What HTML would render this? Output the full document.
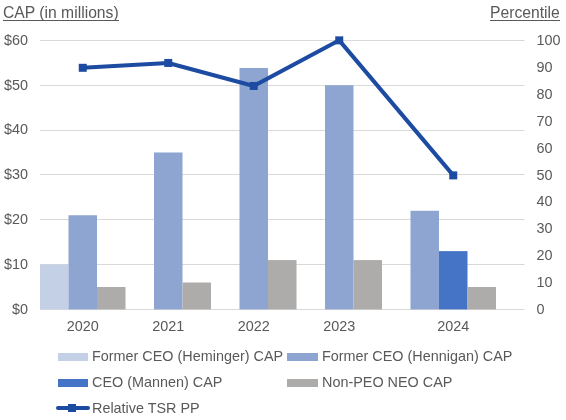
<!DOCTYPE html><html><head><meta charset="utf-8"><style>html,body{margin:0;padding:0;background:#fff;}svg{display:block;will-change:transform}text{font-family:"Liberation Sans",sans-serif;fill:#595959}</style></head><body>
<svg width="566" height="420" viewBox="0 0 566 420">
<rect width="566" height="420" fill="#fff"/>
<rect x="40" y="40" width="484.5" height="1" fill="#D9D9D9"/>
<rect x="40" y="85" width="484.5" height="1" fill="#D9D9D9"/>
<rect x="40" y="130" width="484.5" height="1" fill="#D9D9D9"/>
<rect x="40" y="174" width="484.5" height="1" fill="#D9D9D9"/>
<rect x="40" y="219" width="484.5" height="1" fill="#D9D9D9"/>
<rect x="40" y="264" width="484.5" height="1" fill="#D9D9D9"/>
<rect x="40" y="309" width="484.5" height="1" fill="#D9D9D9"/>
<rect x="40.00" y="264.57" width="28.5" height="44.83" fill="#C3D0E6"/>
<rect x="68.50" y="215.25" width="28.5" height="94.15" fill="#8EA5D1"/>
<rect x="97.00" y="286.98" width="28.5" height="22.42" fill="#AEABAB"/>
<rect x="154.00" y="152.48" width="28.5" height="156.92" fill="#8EA5D1"/>
<rect x="182.50" y="282.50" width="28.5" height="26.90" fill="#AEABAB"/>
<rect x="239.50" y="67.97" width="28.5" height="241.43" fill="#8EA5D1"/>
<rect x="268.00" y="260.08" width="28.5" height="49.32" fill="#AEABAB"/>
<rect x="325.00" y="85.23" width="28.5" height="224.17" fill="#8EA5D1"/>
<rect x="353.50" y="260.08" width="28.5" height="49.32" fill="#AEABAB"/>
<rect x="410.50" y="210.77" width="28.5" height="98.63" fill="#8EA5D1"/>
<rect x="439.00" y="251.12" width="28.5" height="58.28" fill="#4574C6"/>
<rect x="467.50" y="286.98" width="28.5" height="22.42" fill="#AEABAB"/>
<text x="28" y="44.7" font-size="14.4" text-anchor="end">$60</text>
<text x="28" y="89.5" font-size="14.4" text-anchor="end">$50</text>
<text x="28" y="134.4" font-size="14.4" text-anchor="end">$40</text>
<text x="28" y="179.2" font-size="14.4" text-anchor="end">$30</text>
<text x="28" y="224.0" font-size="14.4" text-anchor="end">$20</text>
<text x="28" y="268.9" font-size="14.4" text-anchor="end">$10</text>
<text x="28" y="313.7" font-size="14.4" text-anchor="end">$0</text>
<text x="536.6" y="45.0" font-size="14.4">100</text>
<text x="536.6" y="71.9" font-size="14.4">90</text>
<text x="536.6" y="98.8" font-size="14.4">80</text>
<text x="536.6" y="125.7" font-size="14.4">70</text>
<text x="536.6" y="152.6" font-size="14.4">60</text>
<text x="536.6" y="179.5" font-size="14.4">50</text>
<text x="536.6" y="206.4" font-size="14.4">40</text>
<text x="536.6" y="233.3" font-size="14.4">30</text>
<text x="536.6" y="260.2" font-size="14.4">20</text>
<text x="536.6" y="287.1" font-size="14.4">10</text>
<text x="536.6" y="314.0" font-size="14.4">0</text>
<text x="82.75" y="331" font-size="14.4" text-anchor="middle">2020</text>
<text x="168.25" y="331" font-size="14.4" text-anchor="middle">2021</text>
<text x="253.75" y="331" font-size="14.4" text-anchor="middle">2022</text>
<text x="339.25" y="331" font-size="14.4" text-anchor="middle">2023</text>
<text x="453.25" y="331" font-size="14.4" text-anchor="middle">2024</text>
<polyline points="82.75,67.80 168.25,62.96 253.75,85.96 339.25,40.36 453.25,175.40" fill="none" stroke="#1D4BA2" stroke-width="4" stroke-linejoin="round" stroke-linecap="round"/>
<rect x="78.75" y="63.80" width="8" height="8" fill="#1D4BA2"/>
<rect x="164.25" y="58.96" width="8" height="8" fill="#1D4BA2"/>
<rect x="249.75" y="81.96" width="8" height="8" fill="#1D4BA2"/>
<rect x="335.25" y="36.36" width="8" height="8" fill="#1D4BA2"/>
<rect x="449.25" y="171.40" width="8" height="8" fill="#1D4BA2"/>
<text x="3" y="17.8" font-size="15.7">CAP (in millions)</text>
<rect x="3" y="20" width="116" height="1" fill="#595959"/>
<text x="490" y="17.8" font-size="15.7">Percentile</text>
<rect x="490" y="20" width="70" height="1" fill="#595959"/>
<rect x="58" y="353" width="30" height="8" fill="#C3D0E6"/>
<text x="92" y="361" font-size="14.4">Former CEO (Heminger) CAP</text>
<rect x="287" y="353" width="31" height="8" fill="#8EA5D1"/>
<text x="322" y="361" font-size="14.4">Former CEO (Hennigan) CAP</text>
<rect x="58" y="379" width="30" height="8" fill="#4574C6"/>
<text x="92" y="387" font-size="14.4">CEO (Mannen) CAP</text>
<rect x="287" y="379" width="31" height="8" fill="#AEABAB"/>
<text x="322" y="387" font-size="14.4">Non-PEO NEO CAP</text>
<line x1="58" y1="408" x2="88" y2="408" stroke="#1D4BA2" stroke-width="4" stroke-linecap="round"/>
<rect x="68" y="404" width="8" height="8" fill="#1D4BA2"/>
<text x="92" y="412.7" font-size="14.4">Relative TSR PP</text>
</svg></body></html>
